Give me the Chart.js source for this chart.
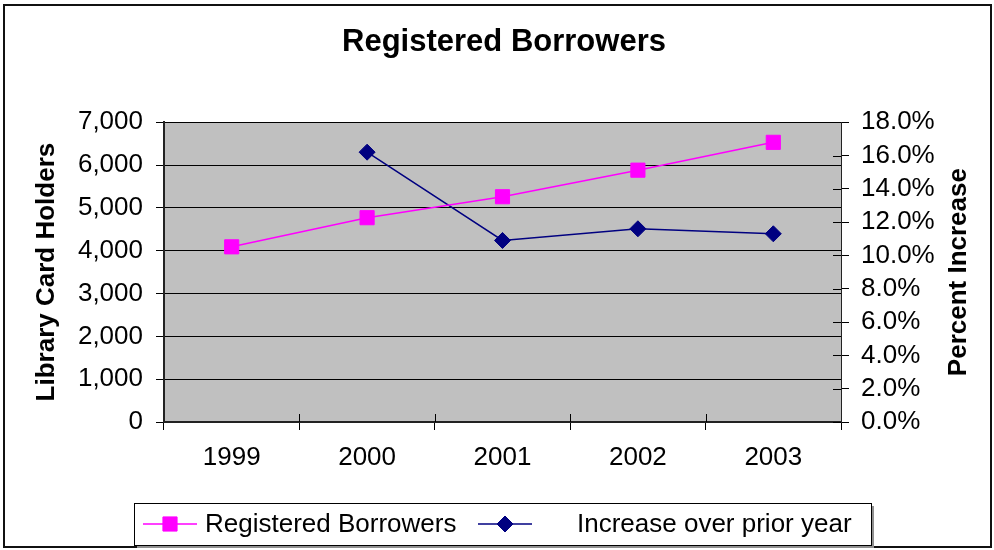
<!DOCTYPE html>
<html>
<head>
<meta charset="utf-8">
<title>Registered Borrowers</title>
<script src="https://cdn.jsdelivr.net/npm/chart.js@4/dist/chart.umd.min.js"></script>
<style>
  html, body { margin: 0; padding: 0; background: #fff; }
  #wrap { width: 994px; height: 550px; }
</style>
</head>
<body>
<div id="wrap"><canvas id="borrowersChart" width="994" height="550"></canvas></div>
<script>
const years = ["1999", "2000", "2001", "2002", "2003"];
const registeredBorrowers = [4090, 4770, 5260, 5880, 6530];
const increasePct = [null, 16.2, 10.9, 11.6, 11.3];
const holderTicks = ["0", "1,000", "2,000", "3,000", "4,000", "5,000", "6,000", "7,000"];
const percentTicks = ["0.0%", "2.0%", "4.0%", "6.0%", "8.0%", "10.0%", "12.0%", "14.0%", "16.0%", "18.0%"];

const FONT = '"Liberation Sans", Arial, sans-serif';
Chart.defaults.font.family = FONT;
Chart.defaults.color = "#000";

// gray plot background, outer frame, inner tick halves, right title and legend box
const excelLook = {
  id: "excelLook",
  beforeDraw(chart) {
    const { ctx, chartArea: a } = chart;
    ctx.save();
    ctx.fillStyle = "#fff";
    ctx.fillRect(0, 0, chart.width, chart.height);
    ctx.fillStyle = "#c0c0c0";
    ctx.fillRect(a.left, a.top, a.right - a.left, a.bottom - a.top);
    ctx.restore();
  },
  afterDraw(chart) {
    const { ctx, chartArea: a } = chart;
    const xs = chart.scales.x;
    const yr = chart.scales.yPct;
    ctx.save();

    // ticks that cross the axis lines
    ctx.strokeStyle = "#000";
    ctx.lineWidth = 1;
    const half = (xs.getPixelForValue(1) - xs.getPixelForValue(0)) / 2;
    ctx.beginPath();
    for (let i = 1; i < years.length; i++) {
      const x = Math.round(xs.getPixelForValue(i) - half) + 0.5;
      ctx.moveTo(x, a.bottom);
      ctx.lineTo(x, a.bottom - 8);
    }
    yr.ticks.forEach(t => {
      const y = Math.round(yr.getPixelForValue(t.value)) + 0.5;
      ctx.moveTo(a.right, y);
      ctx.lineTo(a.right - 8, y);
    });
    ctx.stroke();

    // right axis title, reading bottom to top
    ctx.font = "bold 26px " + FONT;
    ctx.fillStyle = "#000";
    ctx.textAlign = "center";
    ctx.textBaseline = "middle";
    ctx.translate(959, (a.top + a.bottom) / 2);
    ctx.rotate(-Math.PI / 2);
    ctx.fillText("Percent Increase", 0, 0);
    ctx.setTransform(1, 0, 0, 1, 0, 0);

    // outer frame
    ctx.strokeStyle = "#111";
    ctx.lineWidth = 2;
    ctx.strokeRect(4, 5, 987, 542);

    // legend
    ctx.fillStyle = "#909090";
    ctx.fillRect(137, 506, 737, 42);
    ctx.fillStyle = "#fff";
    ctx.fillRect(134, 503, 737, 42);
    ctx.strokeStyle = "#000";
    ctx.lineWidth = 1;
    ctx.strokeRect(134.5, 503.5, 737, 42);

    const ly = 524;
    const items = [
      { ds: chart.data.datasets[0], x0: 143, x1: 197, tx: 205 },
      { ds: chart.data.datasets[1], x0: 478, x1: 532, tx: 577 }
    ];
    items.forEach(it => {
      ctx.strokeStyle = it.ds.borderColor;
      ctx.lineWidth = it.ds.borderWidth;
      ctx.beginPath();
      ctx.moveTo(it.x0, ly);
      ctx.lineTo(it.x1, ly);
      ctx.stroke();
      ctx.fillStyle = it.ds.pointBackgroundColor;
      ctx.strokeStyle = it.ds.pointBorderColor;
      ctx.lineWidth = it.ds.pointBorderWidth;
      Chart.helpers.drawPoint(ctx, {
        pointStyle: it.ds.pointStyle,
        radius: it.ds.pointRadius,
        rotation: 0,
        borderWidth: it.ds.pointBorderWidth
      }, (it.x0 + it.x1) / 2, ly);
      ctx.fillStyle = "#000";
      ctx.font = "26px " + FONT;
      ctx.textAlign = "left";
      ctx.textBaseline = "middle";
      ctx.fillText(it.ds.label, it.tx, ly + 1);
    });
    ctx.restore();
  }
};

new Chart(document.getElementById("borrowersChart"), {
  type: "line",
  data: {
    labels: years,
    datasets: [
      {
        label: "Registered Borrowers",
        data: registeredBorrowers,
        yAxisID: "yCount",
        borderColor: "#ff00ff",
        borderWidth: 1.5,
        pointStyle: "rect",
        pointRadius: 10,
        pointBackgroundColor: "#ff00ff",
        pointBorderColor: "#ff00ff",
        pointBorderWidth: 1,
        tension: 0
      },
      {
        label: "Increase over prior year",
        data: increasePct,
        yAxisID: "yPct",
        borderColor: "#000080",
        borderWidth: 1.5,
        pointStyle: "rectRot",
        pointRadius: 8,
        pointBackgroundColor: "#000080",
        pointBorderColor: "#000080",
        pointBorderWidth: 1,
        tension: 0
      }
    ]
  },
  options: {
    responsive: false,
    animation: false,
    layout: { padding: { left: 14, right: 0, top: 0, bottom: 68 } },
    scales: {
      x: {
        offset: true,
        grid: {
          display: true,
          offset: true,
          drawOnChartArea: false,
          color: "#000",
          tickLength: 8
        },
        border: { color: "#222", width: 2 },
        ticks: { font: { size: 26 }, padding: 12, maxRotation: 0, autoSkip: false },
        afterFit(scale) { scale.height = 60; }
      },
      yCount: {
        position: "left",
        min: 0,
        max: 7000,
        ticks: {
          stepSize: 1000,
          autoSkip: false,
          font: { size: 26 },
          padding: 13,
          callback: (v, i) => holderTicks[i]
        },
        grid: { color: "#000", lineWidth: 1, tickLength: 8 },
        border: { color: "#222", width: 2 },
        title: {
          display: true,
          text: "Library Card Holders",
          font: { size: 26, weight: "bold" },
          padding: { top: 17, bottom: 0 }
        },
        afterFit(scale) { scale.width = 150; }
      },
      yPct: {
        position: "right",
        min: 0,
        max: 18,
        ticks: {
          stepSize: 2,
          autoSkip: false,
          font: { size: 26 },
          padding: 12,
          callback: (v, i) => percentTicks[i]
        },
        grid: { drawOnChartArea: false, color: "#000", tickLength: 8 },
        border: { color: "#222", width: 1 },
        afterFit(scale) { scale.width = 153; }
      }
    },
    plugins: {
      legend: { display: false },
      tooltip: { enabled: false },
      title: {
        display: true,
        text: "Registered Borrowers",
        font: { size: 31, weight: "bold" },
        color: "#000",
        padding: { top: 24, bottom: 61 }
      }
    }
  },
  plugins: [excelLook]
});
</script>
</body>
</html>
